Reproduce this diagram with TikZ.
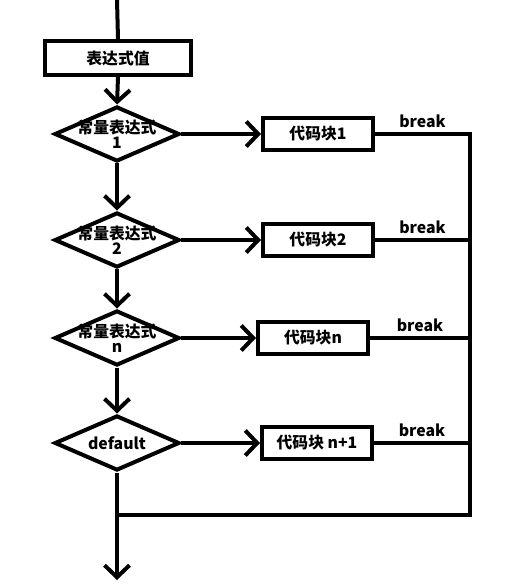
\documentclass[tikz,border=0pt]{standalone}
\usepackage{fontspec}
\setmainfont{Noto Sans CJK SC}
\usepackage{tikz}
\usetikzlibrary{shapes.geometric}
\usetikzlibrary{arrows.meta}
\tikzset{
  thickline/.style={line width=0.08cm},
  labelfont/.style={font=\fontsize{9}{9}\selectfont\bfseries},
  valbox/.style={draw, thickline, rectangle, labelfont, inner sep=0pt,
    minimum width=2.94cm, minimum height=0.68cm},
  codebox/.style={draw, thickline, rectangle, labelfont, inner sep=0pt,
    minimum width=2.2cm, minimum height=0.64cm},
  testbase/.style={draw, thickline, diamond, labelfont, align=center,
    inner xsep=-0.4cm, inner ysep=-0.45cm, minimum width=2.5cm, minimum height=1.1cm},
  casetest/.style={testbase, text height=17pt},
  flowarrow/.style={thickline, -{Straight Barb[length=2.4mm,width=5mm]}},
  brk/.style={midway, above, inner sep=2.5pt, labelfont}
}

\begin{document}
\begin{tikzpicture}[x=0.02cm, y=-0.02cm]
        \useasboundingbox (0,0) rectangle (508,585);
        % value
        \coordinate (start) at (117,0);
        \node[valbox] (val) at (118,58) {表达式值};
        % tests
        \node[casetest] (d1) at (117,134) {常量表达式\\1};
        \node[casetest] (d2) at (117,240) {常量表达式\\2};
        \node[casetest] (d3) at (117,338) {常量表达式\\n};
        \node[testbase] (d4) at (117,443) {default};
        % code blocks
        \node[codebox] (b1) at (318,134) {代码块1};
        \node[codebox] (b2) at (318,240) {代码块2};
        \node[codebox] (b3) at (313,338) {代码块n};
        \node[codebox] (b4) at (317,443) {代码块 n+1};
        % corners
        \coordinate (rt) at (470,134);
        \coordinate (merge) at (116,515);
        \coordinate (stop) at (117,580);

        % main line
        \draw[thickline] (start) -- (val.north);
        \draw[flowarrow] (val.south) -- (d1.north);
        \draw[flowarrow] (d1.south) -- (d2.north);
        \draw[flowarrow] (d2.south) -- (d3.north);
        \draw[flowarrow] (d3.south) -- (d4.north);
        \draw[flowarrow] (d4.south) -- (stop);
        % branches
        \draw[flowarrow] (d1.east) -- (b1.west);
        \draw[flowarrow] (d2.east) -- (b2.west);
        \draw[flowarrow] (d3.east) -- (b3.west);
        \draw[flowarrow] (d4.east) -- (b4.west);
        % breaks
        \draw[thickline] (b1.east) -- node[brk] (k1) {break} (rt) |- (merge);
        \draw[thickline] (b2.east) -- node[brk] (k2) {break} (b2.east -| rt);
        \draw[thickline] (b3.east) -- node[brk] (k3) {break} (b3.east -| rt);
        \draw[thickline] (b4.east) -- node[brk] (k4) {break} (b4.east -| rt);
\end{tikzpicture}
\end{document}
